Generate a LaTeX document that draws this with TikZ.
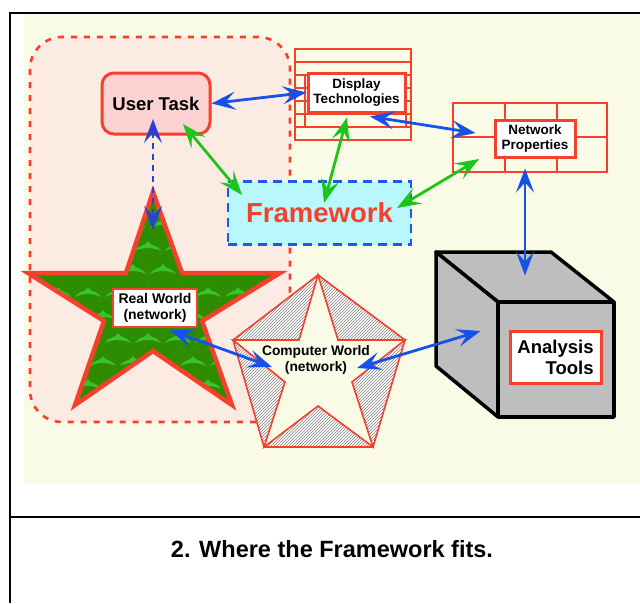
\documentclass[tikz,border=0pt]{standalone}
\usepackage{fontspec}
\setmainfont{Liberation Sans}
\usetikzlibrary{arrows.meta,patterns}
\definecolor{bgyel}{RGB}{249,251,230}
\definecolor{pinkbg}{RGB}{252,235,227}
\definecolor{taskpink}{RGB}{252,210,210}
\definecolor{myred}{RGB}{245,64,44}
\definecolor{mycyan}{RGB}{184,248,252}
\definecolor{myblue}{RGB}{22,82,230}
\definecolor{fwblue}{RGB}{26,90,230}
\definecolor{mygreen}{RGB}{30,196,24}
\definecolor{stargreen}{RGB}{46,140,0}
\definecolor{starlight}{RGB}{56,196,44}
\definecolor{cubegray}{RGB}{190,190,190}
\tikzset{
  labelbox/.style={draw=myred, fill=white, line width=3pt, inner sep=0pt, align=center, font=\fontsize{13.5}{15.5}\selectfont\bfseries},
  gridline/.style={draw=myred, line width=1.3pt},
  bluearrow/.style={draw=myblue, line width=2.8pt, <->},
  greenarrow/.style={draw=mygreen, line width=2.8pt, <->},
}
\begin{document}
\begin{tikzpicture}[x=1pt, y=-1pt, >={Stealth[length=24pt,width=18pt,inset=10pt]}]
\useasboundingbox (0,0) rectangle (640,603);
% background and frame
\fill[white] (0,0) rectangle (640,603);
\fill[bgyel] (24,14) rectangle (640,483);
\draw[line width=2pt] (10,603) -- (10,13) -- (640,13);
\draw[line width=2pt] (10,517) -- (640,517);
% dashed pink region
\draw[myred, fill=pinkbg, line width=2.6pt, dash pattern=on 6pt off 7pt, rounded corners=32pt] (30,37) rectangle (290,422);
% display technologies grid
\draw[gridline] (295,49) rectangle (411,140);
\foreach \yy in {62,75,88,101,114,127} { \draw[gridline] (295,\yy) -- (411,\yy); }
\draw[gridline] (305,75) -- (305,127);
\draw[gridline] (406,75) -- (406,127);
% network properties grid
\draw[gridline] (453,103) rectangle (607,172);
\draw[gridline] (453,137) -- (607,137);
\draw[gridline] (505,103) -- (505,172);
\draw[gridline] (557,103) -- (557,172);
% Real World star
\def\starpath{(153,192) -- (182,273) -- (280,273) -- (202,321) -- (232,405) -- (153,351) -- (75,405) -- (104,321) -- (28,273) -- (126,273) -- cycle}
\fill[stargreen] \starpath;
\begin{scope}
  \clip \starpath;
  \foreach \yy [count=\i] in {205,228,251,274,297,320,343,366,389,412} {
    \foreach \xx in {0,30,...,300} {
      \pgfmathsetmacro\xs{\xx+mod(\i,2)*15}
      \fill[starlight] (\xs,\yy) .. controls (\xs+6,\yy-8) and (\xs+10,\yy-4) .. (\xs+13,\yy-10) .. controls (\xs+16,\yy-4) and (\xs+20,\yy-8) .. (\xs+26,\yy) .. controls (\xs+18,\yy-4) and (\xs+8,\yy-4) .. cycle;
    }
  }
\end{scope}
\draw[myred, line width=4.5pt, line join=miter] \starpath;
% Computer World pentagon
\def\pentpath{(318,275) -- (405,340) -- (373,447) -- (264,447) -- (233,340) -- cycle}
\def\cstarpath{(318,275) -- (338,340) -- (405,340) -- (352,382) -- (373,447) -- (318,406) -- (264,447) -- (285,382) -- (233,340) -- (299,340) -- cycle}
\fill[bgyel] \pentpath;
\fill[white, even odd rule] \pentpath \cstarpath;
\fill[pattern=north east lines, pattern color=black!50, even odd rule] \pentpath \cstarpath;
\draw[myred, line width=1.6pt, line join=miter] \pentpath;
\draw[myred, line width=1.6pt, line join=miter] \cstarpath;
% cube
\draw[black, fill=cubegray, line width=3.5pt, line join=round] (436,252) -- (551,252) -- (614,302) -- (498,302) -- cycle;
\draw[black, fill=cubegray, line width=3.5pt, line join=round] (436,252) -- (498,302) -- (498,417) -- (436,366) -- cycle;
\draw[black, fill=cubegray, line width=3.5pt, line join=round] (498,302) rectangle (614,417);
% nodes
\node[draw=myred, fill=taskpink, line width=3pt, rounded corners=12pt, minimum width=108pt, minimum height=61pt, inner sep=0pt, font=\fontsize{18.5}{21}\selectfont\bfseries] (usertask) at (156,103.5) {User Task};
\node[labelbox, minimum width=97pt, minimum height=39pt] (disp) at (356.5,92.5) {Display\\Technologies};
\node[labelbox, minimum width=80pt, minimum height=37pt] (netp) at (535,138.5) {Network\\Properties};
\node[draw=fwblue, fill=mycyan, line width=2.6pt, dash pattern=on 9pt off 6pt, minimum width=183pt, minimum height=63pt, inner sep=0pt, text=myred, font=\fontsize{27.5}{30}\selectfont\bfseries] (frame) at (319.5,213) {Framework};
\node[labelbox, line width=2.5pt, minimum width=84pt, minimum height=38pt, font=\fontsize{14}{16}\selectfont\bfseries] (real) at (155,308) {Real World\\(network)};
\node[align=center, inner sep=0pt, font=\fontsize{13.8}{16}\selectfont\bfseries] (comp) at (316,360) {Computer World\\(network)};
\node[labelbox, align=right, minimum width=91pt, minimum height=52pt, inner xsep=6pt, font=\fontsize{18.5}{21}\selectfont\bfseries] (anal) at (555.5,357) {Analysis\\Tools};
\node[font=\fontsize{23.5}{26}\selectfont\bfseries] (caption) at (332,549) {2. Where the Framework fits.};
% connectors
\draw[bluearrow] (usertask.east) -- (disp.west);
\draw[greenarrow] ([shift={(27,20.5)}]usertask.center) -- ([shift={(-77.5,-18)}]frame.center);
\draw[draw=myblue!80!violet, line width=2.6pt, <->, dash pattern=on 6pt off 5pt] ([shift={(-3,15.5)}]usertask.center) -- ([shift={(-2,-78)}]real.center);
\draw[greenarrow] ([shift={(-9.5,4)}]disp.south) -- ([shift={(4.5,-10)}]frame.center);
\draw[bluearrow] ([shift={(13.5,3)}]disp.south) -- ([shift={(-18,-5.5)}]netp.west);
\draw[greenarrow] ([shift={(77.5,-5)}]frame.center) -- ([shift={(-56,20.5)}]netp.center);
\draw[bluearrow] ([shift={(-10,10)}]netp.south) -- ([shift={(-30.5,-54)}]anal.north);
\draw[bluearrow] ([shift={(15,2)}]real.south) -- ([shift={(-44,7)}]comp.center);
\draw[bluearrow] ([shift={(41,8)}]comp.center) -- ([shift={(-28,-26)}]anal.west);
\end{tikzpicture}
\end{document}
